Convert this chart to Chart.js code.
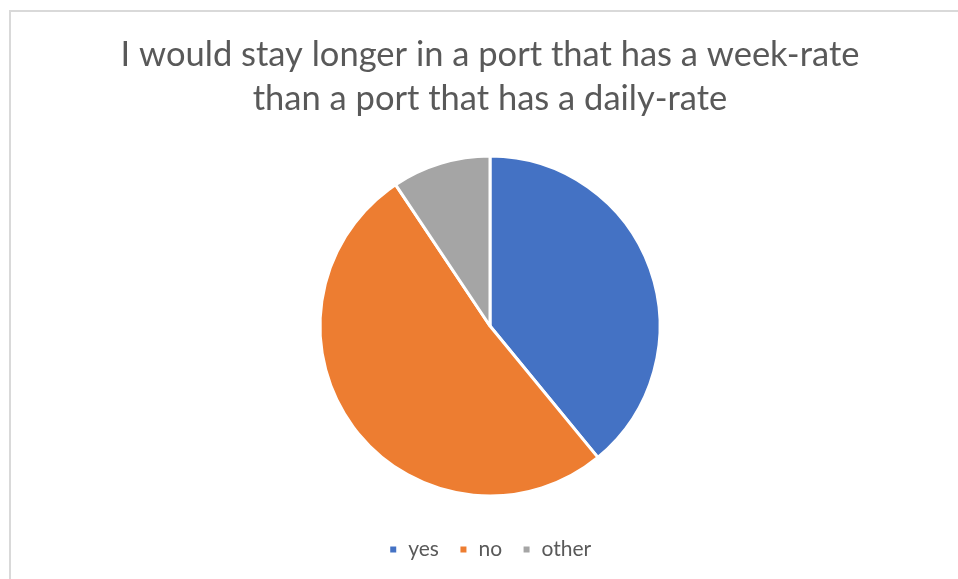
<!DOCTYPE html>
<html>
<head>
<meta charset="utf-8">
<script src="https://cdn.jsdelivr.net/npm/chart.js@4.4.1/dist/chart.umd.min.js"></script>
<style>
  html, body { margin: 0; padding: 0; background: #ffffff; overflow: hidden; }
  body { width: 958px; height: 579px; position: relative; }
  .frame { position: absolute; left: 9px; top: 10px; width: 1000px; height: 1000px;
           border: 2px solid #d9d9d9; box-sizing: border-box; }
  .wrap { position: absolute; left: 0; top: 0; width: 958px; height: 579px; }
</style>
</head>
<body>
<div class="frame"></div>
<div class="wrap"><canvas id="chart" width="958" height="579"></canvas></div>
<script>
// Survey answers
const titleLines = ['I would stay longer in a port that has a week-rate', 'than a port that has a daily-rate'];
const categories = ['yes', 'no', 'other'];
const responses = [25, 33, 6];
const sliceColors = ['#4472C4', '#ED7D31', '#A5A5A5'];

const textColor = '#595959';
const fontFamily = 'Lato, "Liberation Sans", sans-serif';

new Chart(document.getElementById('chart'), {
  type: 'pie',
  data: {
    labels: categories,
    datasets: [{
      data: responses,
      backgroundColor: sliceColors,
      borderColor: '#ffffff',
      borderWidth: 3,
      radius: 170
    }]
  },
  options: {
    responsive: false,
    animation: false,
    events: [],
    layout: { padding: { left: 22, right: 0, top: 0, bottom: 9 } },
    plugins: {
      tooltip: { enabled: false },
      title: {
        display: true,
        text: titleLines,
        color: textColor,
        font: { family: fontFamily, size: 34.5, weight: 'normal', lineHeight: '44px' },
        padding: { top: 33, bottom: 12 }
      },
      legend: {
        display: true,
        position: 'bottom',
        labels: {
          color: textColor,
          font: { family: fontFamily, size: 21 },
          boxWidth: 9,
          boxHeight: 9,
          padding: 20
        }
      }
    }
  }
});
</script>
</body>
</html>
